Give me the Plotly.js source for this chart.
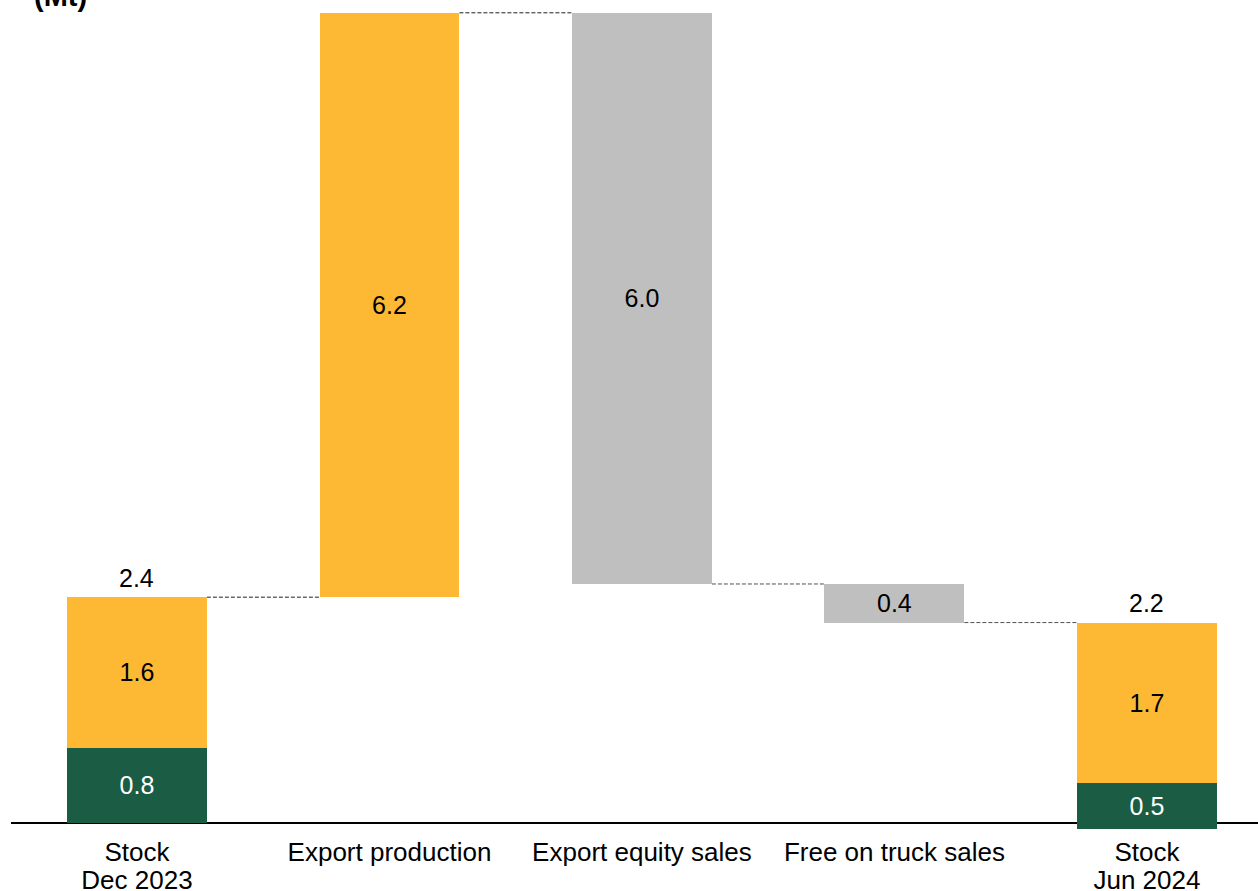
<!DOCTYPE html>
<html>
<head>
<meta charset="utf-8">
<script src="https://cdn.plot.ly/plotly-3.0.1.min.js"></script>
<style>html,body{margin:0;padding:0;background:#fff;}#chart{width:1258px;height:891px;}</style>
</head>
<body>
<div id="chart"></div>
<script>
// ---- data (Mt) ----
const categories = ["Stock", "Export production", "Export equity sales", "Free on truck sales", "Stock"];
const subLabels = ["Dec 2023", "", "", "", "Jun 2024"];
const openingGreen = 0.8;   // Stock Dec 2023, dark green part
const openingYellow = 1.6;  // Stock Dec 2023, yellow part
const exportProduction = 6.21;
const exportEquitySales = 6.07;
const freeOnTruckSales = 0.41;
const closingYellow = 1.71; // Stock Jun 2024, yellow part
const closingGreen = 0.48;  // Stock Jun 2024, dark green part
const valueLabels = {
  openingGreen: "0.8", openingYellow: "1.6", exportProduction: "6.2",
  exportEquitySales: "6.0", freeOnTruckSales: "0.4", closingYellow: "1.7", closingGreen: "0.5"
};
const totalLabels = ["2.4", "2.2"];

// ---- waterfall levels ----
const openingTotal = openingGreen + openingYellow;
const afterProduction = openingTotal + exportProduction;
const afterEquity = afterProduction - exportEquitySales;
const afterTruck = afterEquity - freeOnTruckSales;
const closingBase = afterTruck - closingYellow - closingGreen;

const YEL = "#FDB933", GRN = "#1B5C45", GRY = "#BFBFBF";
const BW = 0.554;
const FONT = "Liberation Sans, Arial, sans-serif";
const VSIZE = 25;

const green = {
  type: "bar", x: [0, 4], y: [openingGreen, closingGreen], base: [0, closingBase],
  width: BW, marker: {color: GRN, line: {width: 0}},
  text: [valueLabels.openingGreen, valueLabels.closingGreen],
  textposition: "inside", insidetextanchor: "middle", textangle: 0,
  textfont: {family: FONT, size: VSIZE, color: "#ffffff"}, hoverinfo: "skip", showlegend: false
};
const yellow = {
  type: "bar", x: [0, 1, 4], y: [openingYellow, exportProduction, closingYellow],
  base: [openingGreen, openingTotal, closingBase + closingGreen],
  width: BW, marker: {color: YEL, line: {width: 0}},
  text: [valueLabels.openingYellow, valueLabels.exportProduction, valueLabels.closingYellow],
  textposition: "inside", insidetextanchor: "middle", textangle: 0,
  textfont: {family: FONT, size: VSIZE, color: "#000000"}, hoverinfo: "skip", showlegend: false
};
const gray = {
  type: "bar", x: [2, 3], y: [exportEquitySales, freeOnTruckSales],
  base: [afterEquity, afterTruck],
  width: BW, marker: {color: GRY, line: {width: 0}},
  text: [valueLabels.exportEquitySales, valueLabels.freeOnTruckSales],
  textposition: "inside", insidetextanchor: "middle", textangle: 0,
  textfont: {family: FONT, size: VSIZE, color: "#000000"}, hoverinfo: "skip", showlegend: false
};
// second-line category labels on an overlaying axis
const dummy = {type: "scatter", x: [0, 4], y: [0, 0], xaxis: "x2", mode: "none", hoverinfo: "skip", showlegend: false};

const levels = [openingTotal, afterProduction, afterEquity, afterTruck];
const connColors = ["#202020", "#202020", "#505050", "#505050"];
const shapes = [{
  type: "line", xref: "paper", yref: "y", x0: 0, x1: 1, y0: 0, y1: 0,
  line: {color: "#000", width: 2}, layer: "below"
}];
levels.forEach((lv, i) => {
  shapes.push({type: "line", xref: "x", yref: "y", x0: i + BW / 2, x1: i + 1 - BW / 2, y0: lv, y1: lv,
    line: {color: connColors[i], width: 1, dash: "4px,2px"}, layer: "below"});
});

const annotations = [
  {x: 0, y: openingTotal, text: totalLabels[0]},
  {x: 4, y: afterTruck, text: totalLabels[1]}
].map(a => ({xref: "x", yref: "y", x: a.x, y: a.y, text: a.text, showarrow: false,
  yanchor: "middle", yshift: 19.5, font: {family: FONT, size: VSIZE, color: "#000"}}));
annotations.push({xref: "paper", yref: "paper", x: 0.0393, y: 1, xanchor: "center", yanchor: "middle",
  yshift: 4, text: "<b>(Mt)</b>", showarrow: false, font: {family: FONT, size: 29, color: "#000"}});

const xr = [-0.499, 4.44];
const layout = {
  width: 1258, height: 891,
  margin: {l: 11, r: 0, t: 0, b: 61},
  paper_bgcolor: "#fff", plot_bgcolor: "#fff",
  barmode: "overlay", bargap: 0,
  xaxis: {range: xr, tickvals: [0, 1, 2, 3, 4], ticktext: categories, showgrid: false, zeroline: false,
    showline: false, ticks: "", ticklabelstandoff: 4,
    tickfont: {family: FONT, size: 26, color: "#000"}, fixedrange: true},
  xaxis2: {range: xr, overlaying: "x", side: "bottom", anchor: "y", tickvals: [0, 4], ticktext: [subLabels[0], subLabels[4]],
    showgrid: false, zeroline: false, showline: false, ticks: "", ticklabelstandoff: 32,
    tickfont: {family: FONT, size: 26, color: "#000"}, fixedrange: true},
  yaxis: {range: [-0.0744, 8.746], visible: false, showgrid: false, zeroline: false, fixedrange: true},
  shapes: shapes, annotations: annotations, showlegend: false
};
Plotly.newPlot("chart", [green, yellow, gray, dummy], layout, {staticPlot: true, displayModeBar: false});
</script>
</body>
</html>
